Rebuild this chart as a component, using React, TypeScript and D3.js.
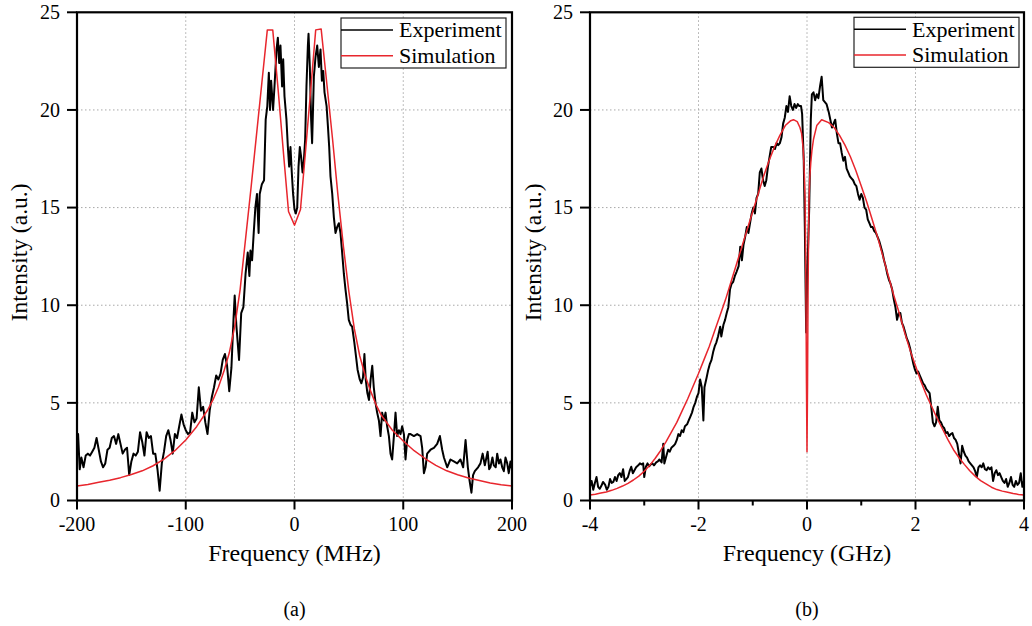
import React from "react";
import * as d3 from "d3";

// ---------- data ----------
const intensityTicks = [0, 5, 10, 15, 20, 25];
const intensityGrid = [5, 10, 15, 20];
const freqTicksA = [-200, -100, 0, 100, 200];
const freqGridA = [-100, 0, 100];
const freqTicksB = [-4, -2, 0, 2, 4];
const freqMinorB = [-3, -1, 1, 3];
const freqGridB = [-2, 0, 2];
const legendLabels = ["Experiment", "Simulation"];

// (a) experiment: [frequency MHz, intensity a.u.]
const expA: [number, number][] = [
  [-200, 2.3], [-199, 3.4], [-197.5, 1.6], [-196, 2.2], [-194, 1.7], [-192, 2.3], [-190, 2.4], [-188, 2.3],
  [-186, 2.5], [-184, 2.7], [-182, 3.2], [-180, 2.6], [-178, 2.0], [-176, 1.7], [-174, 1.9], [-172, 2.6],
  [-170, 2.7], [-168, 3.2], [-166, 3.3], [-164, 2.9], [-162, 3.4], [-160, 2.9], [-158, 2.4], [-156, 2.6],
  [-154, 2.7], [-152, 1.3], [-150, 2.0], [-148, 2.4], [-146, 2.3], [-144, 2.5], [-142, 3.5], [-140, 3.0],
  [-138, 2.3], [-136, 3.5], [-134, 3.2], [-132, 3.3], [-130, 2.4], [-128, 2.4], [-126, 1.6], [-124, 0.5],
  [-122, 1.9], [-120, 2.5], [-118, 3.3], [-116, 3.6], [-114, 3.1], [-112, 2.4], [-110, 3.4], [-108, 3.2],
  [-106, 3.8], [-104, 4.4], [-102, 3.9], [-100, 3.6], [-98, 3.4], [-96, 3.5], [-94, 4.5], [-92, 4.0],
  [-90, 4.2], [-88, 5.8], [-86, 4.6], [-84, 4.8], [-82, 4.0], [-80, 3.4], [-78, 4.6], [-76, 5.3],
  [-74, 5.8], [-72, 6.4], [-70, 6.2], [-68, 6.5], [-66, 7.2], [-64, 7.5], [-62, 6.9], [-60, 5.6],
  [-58, 6.8], [-56, 9.4], [-55, 10.5], [-53.5, 9.0], [-51, 7.2], [-49, 9.6], [-47, 9.9], [-45, 11.6],
  [-43, 12.7], [-41.5, 11.5], [-40.5, 12.8], [-39, 12.3], [-37.5, 13.7], [-36, 15.0], [-34.5, 15.7], [-33, 13.7],
  [-32, 15.7], [-30, 16.2], [-28, 16.4], [-26.5, 19.5], [-25, 20.2], [-23.6, 21.9], [-22.5, 20.0], [-21.5, 21.5],
  [-19.7, 20.0], [-18.4, 21.2], [-16.5, 23.1], [-15.3, 23.7], [-14.1, 22.4], [-12.9, 23.3], [-11.4, 21.2], [-10.4, 22.6],
  [-9.2, 20.7], [-7.4, 19.5], [-6.1, 18.1], [-4.9, 17.1], [-3.7, 18.1], [-2.5, 16.8], [-1.3, 15.7], [0, 14.9],
  [1.2, 14.7], [2.5, 15.0], [3.7, 17.1], [4.9, 18.1], [6.1, 17.6], [7.4, 16.8], [8.6, 17.4], [9.8, 18.5],
  [11.0, 21.2], [12.3, 23.3], [12.9, 23.9], [14.1, 22.2], [15.3, 19.5], [16.2, 18.3], [17.8, 21.7], [19.3, 22.7],
  [20.9, 23.3], [22.4, 22.2], [23.9, 23.1], [25.2, 21.5], [26.4, 22.0], [27.6, 20.9], [29.5, 20.2], [30.7, 19.2],
  [31.9, 18.1], [33.1, 16.6], [34.7, 15.7], [36.2, 14.5], [37.7, 13.7], [39.2, 14.0], [40.8, 14.2], [42.3, 13.7],
  [43.8, 12.7], [45.4, 11.6], [46.9, 10.8], [48.4, 10.1], [49.9, 9.25], [51.5, 9.0], [53, 8.9], [55, 8.1],
  [56.5, 7.4], [58, 6.7], [60, 6.2], [61.5, 6.0], [63, 6.3], [64.3, 7.5], [65.5, 6.2], [67, 5.5],
  [68.5, 5.15], [70, 6.2], [71.5, 6.9], [72.9, 5.8], [74.5, 5.0], [76, 4.5], [77.6, 4.1], [79.1, 3.3],
  [80.6, 4.5], [82.2, 4.1], [83.7, 4.5], [85.2, 3.8], [86.8, 3.3], [88.3, 2.4], [89.8, 2.1], [91.4, 3.3],
  [92.9, 4.5], [94.4, 3.3], [96, 3.6], [97.5, 3.4], [99, 3.8], [100.6, 3.4], [102.1, 2.1], [103.6, 3.1],
  [105.2, 3.4], [106.7, 3.4], [109.8, 3.3], [112.8, 3.4], [115.9, 3.3], [117.4, 2.7], [119, 1.4], [120.5, 1.7],
  [122, 2.4], [125.1, 2.6], [128.2, 2.7], [131.2, 2.9], [133.7, 3.3], [135.8, 2.6], [137.4, 2.2], [140.4, 1.7],
  [143.4, 2.1], [146.5, 2.0], [149.6, 1.9], [152.6, 2.1], [155.1, 1.7], [157.3, 3.1], [159.4, 1.7], [160.9, 1.05],
  [162.7, 0.4], [164.2, 1.3], [165.8, 1.5], [168.8, 1.7], [171, 1.9], [173, 2.4], [175, 1.8], [177.6, 2.5],
  [179, 1.6], [180.2, 1.7], [182, 2.2], [183.3, 1.8], [185, 1.7], [186.4, 2.4], [188, 1.9], [189.4, 2.1],
  [191, 1.7], [192.5, 1.5], [194, 2.2], [195.6, 1.9], [197, 1.4], [198.6, 2.0], [200, 1.6],
];

// (a) simulation
const simA: [number, number][] = [
  [-200, 0.74], [-190, 0.82], [-180, 0.93], [-170, 1.04], [-160, 1.17], [-150, 1.33], [-140, 1.52], [-130, 1.78],
  [-120, 2.12], [-110, 2.55], [-100, 3.1], [-90, 3.78], [-80, 4.62], [-75, 5.15], [-70, 5.8], [-65, 6.6],
  [-60, 7.55], [-55, 8.9], [-50, 10.8], [-45, 13.4], [-40, 16.0], [-35, 18.7], [-30, 21.4], [-25, 24.1],
  [-20, 24.1], [-15, 21.0], [-10, 17.7], [-5.5, 14.8], [0, 14.1], [5.5, 14.9], [10, 17.8], [15, 21.1],
  [19.5, 24.1], [24.5, 24.15], [30, 21.2], [35, 18.5], [40, 15.6], [45, 13.0], [50, 10.7], [55, 8.8],
  [60, 7.4], [65, 6.4], [70, 5.6], [75, 4.9], [80, 4.35], [90, 3.6], [100, 3.05], [110, 2.55],
  [120, 2.15], [130, 1.8], [140, 1.52], [150, 1.32], [160, 1.15], [170, 1.02], [180, 0.9], [190, 0.81], [200, 0.74],
];

// (b) experiment: [frequency GHz, intensity a.u.]
const expB: [number, number][] = [
  [-4.0, 0.7], [-3.97, 1.0], [-3.94, 0.55], [-3.91, 0.9], [-3.88, 1.2], [-3.85, 0.7], [-3.82, 0.6], [-3.79, 0.75],
  [-3.76, 0.95], [-3.72, 0.8], [-3.69, 0.55], [-3.66, 0.7], [-3.63, 1.1], [-3.6, 0.9], [-3.57, 0.95], [-3.54, 1.2],
  [-3.51, 1.0], [-3.48, 1.3], [-3.45, 1.4], [-3.42, 1.2], [-3.39, 1.6], [-3.36, 1.0], [-3.33, 1.1], [-3.3, 1.2],
  [-3.27, 1.5], [-3.24, 1.73], [-3.21, 1.4], [-3.18, 1.55], [-3.15, 1.7], [-3.11, 1.8], [-3.08, 1.9], [-3.05, 1.85],
  [-3.02, 1.9], [-3.0, 1.2], [-2.97, 1.73], [-2.94, 1.9], [-2.91, 1.75], [-2.88, 1.85], [-2.85, 1.9], [-2.82, 1.8],
  [-2.78, 1.95], [-2.75, 2.0], [-2.72, 2.1], [-2.68, 1.95], [-2.65, 2.9], [-2.63, 1.9], [-2.59, 2.3], [-2.56, 2.6],
  [-2.53, 2.5], [-2.5, 2.7], [-2.46, 2.8], [-2.43, 2.9], [-2.4, 3.1], [-2.37, 3.4], [-2.34, 3.3], [-2.31, 3.6],
  [-2.28, 3.5], [-2.25, 3.8], [-2.21, 3.9], [-2.18, 4.1], [-2.15, 4.3], [-2.12, 4.5], [-2.09, 4.8], [-2.06, 5.0],
  [-2.03, 5.3], [-2.0, 5.5], [-1.97, 6.2], [-1.94, 5.8], [-1.91, 4.1], [-1.89, 5.8], [-1.85, 6.3], [-1.82, 6.7],
  [-1.79, 7.0], [-1.76, 7.2], [-1.73, 7.6], [-1.7, 7.9], [-1.67, 8.1], [-1.64, 8.4], [-1.6, 8.9], [-1.58, 8.4],
  [-1.54, 9.0], [-1.51, 9.25], [-1.48, 9.6], [-1.45, 9.9], [-1.42, 10.8], [-1.39, 11.1], [-1.36, 11.2], [-1.33, 11.5],
  [-1.3, 11.7], [-1.26, 12.0], [-1.23, 13.0], [-1.2, 12.3], [-1.17, 13.1], [-1.14, 13.5], [-1.11, 14.0], [-1.08, 13.7],
  [-1.05, 14.2], [-1.02, 14.7], [-0.99, 15.0], [-0.96, 14.7], [-0.93, 15.5], [-0.9, 15.7], [-0.87, 16.8], [-0.84, 17.0],
  [-0.81, 16.4], [-0.78, 16.1], [-0.75, 16.4], [-0.72, 17.1], [-0.69, 17.6], [-0.66, 18.1], [-0.62, 18.1], [-0.59, 18.0],
  [-0.56, 18.3], [-0.53, 18.2], [-0.5, 18.3], [-0.47, 18.6], [-0.44, 19.3], [-0.41, 19.6], [-0.38, 20.2], [-0.35, 19.9],
  [-0.32, 20.7], [-0.29, 20.2], [-0.26, 20.0], [-0.23, 20.3], [-0.2, 20.1], [-0.17, 20.3], [-0.14, 20.2], [-0.11, 20.2],
  [-0.09, 19.8], [-0.06, 17.4], [-0.04, 14.0], [-0.015, 8.6], [0.01, 12.0], [0.04, 14.9], [0.07, 19.5], [0.09, 20.8],
  [0.12, 20.9], [0.15, 20.5], [0.18, 20.8], [0.21, 20.6], [0.24, 21.2], [0.27, 21.7], [0.3, 20.5], [0.33, 20.4],
  [0.36, 20.3], [0.4, 19.9], [0.43, 19.5], [0.46, 19.1], [0.49, 19.3], [0.52, 19.5], [0.55, 18.8], [0.58, 18.3],
  [0.61, 18.3], [0.64, 17.8], [0.67, 17.4], [0.7, 17.6], [0.73, 17.0], [0.76, 16.8], [0.79, 16.6], [0.82, 16.5],
  [0.85, 16.4], [0.88, 16.2], [0.91, 16.1], [0.94, 15.7], [0.97, 15.4], [1.0, 15.7], [1.03, 15.5], [1.06, 15.0],
  [1.09, 14.9], [1.12, 14.4], [1.15, 14.2], [1.18, 14.0], [1.21, 14.0], [1.24, 13.8], [1.27, 13.7], [1.3, 13.5],
  [1.33, 13.3], [1.36, 13.0], [1.39, 12.7], [1.42, 12.3], [1.45, 12.0], [1.48, 11.6], [1.51, 11.3], [1.54, 11.1],
  [1.57, 10.8], [1.6, 10.3], [1.63, 9.9], [1.66, 9.25], [1.69, 9.6], [1.72, 9.6], [1.75, 9.1], [1.78, 8.9],
  [1.81, 8.6], [1.84, 8.3], [1.87, 8.1], [1.9, 7.8], [1.93, 7.4], [1.96, 7.0], [1.99, 6.7], [2.02, 6.5],
  [2.05, 6.6], [2.08, 6.4], [2.11, 6.2], [2.14, 6.0], [2.17, 5.9], [2.2, 5.7], [2.23, 5.6], [2.26, 5.5],
  [2.29, 4.8], [2.32, 4.0], [2.35, 3.8], [2.38, 4.0], [2.41, 4.8], [2.44, 4.1], [2.47, 4.0], [2.5, 3.8],
  [2.53, 3.7], [2.56, 3.45], [2.59, 3.5], [2.62, 3.3], [2.65, 3.4], [2.68, 3.45], [2.71, 3.2], [2.74, 3.1],
  [2.77, 2.9], [2.8, 2.4], [2.83, 1.9], [2.86, 2.8], [2.89, 2.5], [2.92, 2.3], [2.95, 2.2], [2.98, 2.0],
  [3.01, 1.9], [3.04, 1.8], [3.07, 1.7], [3.1, 1.5], [3.13, 1.2], [3.16, 1.7], [3.19, 1.8], [3.22, 1.7],
  [3.25, 1.9], [3.28, 1.6], [3.31, 1.55], [3.34, 1.7], [3.37, 1.6], [3.4, 1.7], [3.43, 1.0], [3.46, 1.4],
  [3.49, 1.55], [3.52, 1.3], [3.55, 1.4], [3.58, 1.2], [3.61, 1.0], [3.64, 0.9], [3.67, 1.1], [3.7, 0.7],
  [3.73, 0.9], [3.76, 1.2], [3.79, 0.8], [3.82, 0.7], [3.85, 1.0], [3.88, 0.8], [3.91, 0.9], [3.94, 1.4],
  [3.97, 0.7], [4.0, 1.0],
];

// (b) simulation
const simB: [number, number][] = [
  [-4.0, 0.28], [-3.9, 0.32], [-3.8, 0.38], [-3.7, 0.44], [-3.6, 0.52], [-3.5, 0.62], [-3.4, 0.74], [-3.3, 0.88],
  [-3.2, 1.05], [-3.1, 1.25], [-3.0, 1.5], [-2.9, 1.8], [-2.8, 2.15], [-2.7, 2.55], [-2.6, 3.0], [-2.5, 3.5],
  [-2.4, 4.0], [-2.3, 4.6], [-2.2, 5.2], [-2.1, 5.85], [-2.0, 6.5], [-1.9, 7.2], [-1.8, 7.9], [-1.7, 8.7],
  [-1.6, 9.5], [-1.5, 10.3], [-1.4, 11.2], [-1.3, 12.1], [-1.2, 13.0], [-1.1, 13.9], [-1.0, 14.8], [-0.9, 15.7],
  [-0.8, 16.6], [-0.7, 17.4], [-0.6, 18.1], [-0.5, 18.7], [-0.4, 19.2], [-0.3, 19.45], [-0.25, 19.5], [-0.18, 19.4],
  [-0.13, 19.1], [-0.1, 18.8], [-0.07, 18.0], [-0.05, 16.8], [-0.035, 15.4], [-0.02, 11.0], [-0.01, 6.0], [0, 2.5],
  [0.01, 6.0], [0.02, 11.0], [0.035, 15.2], [0.05, 16.5], [0.07, 17.3], [0.09, 17.9], [0.12, 18.5], [0.18, 19.2],
  [0.27, 19.5], [0.4, 19.35], [0.5, 19.1], [0.6, 18.7], [0.7, 18.2], [0.8, 17.6], [0.9, 16.9], [1.0, 16.1],
  [1.1, 15.3], [1.2, 14.4], [1.3, 13.5], [1.4, 12.5], [1.5, 11.5], [1.6, 10.5], [1.7, 9.6], [1.8, 8.6],
  [1.9, 7.7], [2.0, 6.9], [2.1, 6.1], [2.2, 5.4], [2.3, 4.8], [2.4, 4.2], [2.5, 3.65], [2.6, 3.1],
  [2.7, 2.6], [2.8, 2.2], [2.9, 1.85], [3.0, 1.52], [3.1, 1.25], [3.2, 1.02], [3.3, 0.85], [3.4, 0.68],
  [3.5, 0.56], [3.6, 0.48], [3.7, 0.42], [3.8, 0.36], [3.9, 0.31], [4.0, 0.28],
];

// ---------- drawing ----------
const W = 1032;
const H = 626;
const FONT = "'Liberation Serif', 'Times New Roman', Times, serif";
const serif = { fontFamily: FONT };

type PanelProps = {
  x0: number;
  x1: number;
  xDomain: [number, number];
  xTicks: number[];
  xMinor: number[];
  xGrid: number[];
  exp: [number, number][];
  sim: [number, number][];
  xTitle: string;
  tag: string;
  legendX: number;
  legendY: number;
  yTitleX: number;
};

function Panel(p: PanelProps) {
  const top = 12.3;
  const bottom = 500.5;
  const x = d3.scaleLinear().domain(p.xDomain).range([p.x0, p.x1]);
  const y = d3.scaleLinear().domain([0, 25]).range([bottom, top]);
  const line = d3
    .line<[number, number]>()
    .x((d) => x(d[0]))
    .y((d) => y(d[1]));
  const cx = (p.x0 + p.x1) / 2;
  const legendColors = ["#000", "#e8262d"];
  return (
    <g>
      {intensityGrid.map((v) => (
        <line key={"gy" + v} x1={p.x0} x2={p.x1} y1={y(v)} y2={y(v)} stroke="#a8a8a8" strokeWidth={1} strokeDasharray="1.5,2.5" />
      ))}
      {p.xGrid.map((v) => (
        <line key={"gx" + v} x1={x(v)} x2={x(v)} y1={top} y2={bottom} stroke="#a8a8a8" strokeWidth={1} strokeDasharray="1.5,2.5" />
      ))}
      <path d={line(p.exp) || ""} fill="none" stroke="#000" strokeWidth={2} strokeLinejoin="round" />
      <path d={line(p.sim) || ""} fill="none" stroke="#e8262d" strokeWidth={1.5} strokeLinejoin="round" />
      <rect x={p.x0} y={top} width={p.x1 - p.x0} height={bottom - top} fill="none" stroke="#000" strokeWidth={2.2} />
      {intensityTicks.map((v) => (
        <g key={"ty" + v}>
          <line x1={p.x0 - 10} x2={p.x0} y1={y(v)} y2={y(v)} stroke="#000" strokeWidth={2} />
          <text x={p.x0 - 17} y={y(v)} dy="0.34em" textAnchor="end" style={serif} fontSize={20} fill="#000">
            {v}
          </text>
        </g>
      ))}
      {p.xTicks.map((v) => (
        <g key={"tx" + v}>
          <line x1={x(v)} x2={x(v)} y1={bottom} y2={bottom + 9} stroke="#000" strokeWidth={2} />
          <text x={x(v)} y={531} textAnchor="middle" style={serif} fontSize={20} fill="#000">
            {v}
          </text>
        </g>
      ))}
      {p.xMinor.map((v) => (
        <line key={"mx" + v} x1={x(v)} x2={x(v)} y1={bottom} y2={bottom + 5} stroke="#000" strokeWidth={2} />
      ))}
      <text x={cx} y={561} textAnchor="middle" style={serif} fontSize={24} fill="#000">
        {p.xTitle}
      </text>
      <text
        transform={`translate(${p.yTitleX},${(top + bottom) / 2 - 4}) rotate(-90)`}
        textAnchor="middle"
        style={serif}
        fontSize={23.5}
        fill="#000"
      >
        Intensity (a.u.)
      </text>
      <text x={cx} y={616} textAnchor="middle" style={serif} fontSize={20} fill="#000">
        {p.tag}
      </text>
      <g transform={`translate(${p.legendX},${p.legendY})`}>
        <rect x={0} y={0} width={165} height={50} fill="#fff" stroke="#222" strokeWidth={1.2} />
        {legendLabels.map((lab, i) => (
          <g key={lab}>
            <line x1={0} x2={52} y1={12 + i * 25.7} y2={12 + i * 25.7} stroke={legendColors[i]} strokeWidth={1.6} />
            <text x={58} y={19.3 + i * 25.4} style={serif} fontSize={22} fill="#000">
              {lab}
            </text>
          </g>
        ))}
      </g>
    </g>
  );
}

export default function App() {
  return (
    <svg
      width={W}
      height={H}
      viewBox={`0 0 ${W} ${H}`}
      style={{ position: "absolute", left: 0, top: 0, background: "#fff" }}
    >
      <rect x={0} y={0} width={W} height={H} fill="#fff" />
      <Panel
        x0={77}
        x1={512}
        xDomain={[-200, 200]}
        xTicks={freqTicksA}
        xMinor={[]}
        xGrid={freqGridA}
        exp={expA}
        sim={simA}
        xTitle="Frequency (MHz)"
        tag="(a)"
        legendX={341}
        legendY={18}
        yTitleX={27}
      />
      <Panel
        x0={590}
        x1={1024}
        xDomain={[-4, 4]}
        xTicks={freqTicksB}
        xMinor={freqMinorB}
        xGrid={freqGridB}
        exp={expB}
        sim={simB}
        xTitle="Frequency (GHz)"
        tag="(b)"
        legendX={854}
        legendY={17.3}
        yTitleX={541}
      />
    </svg>
  );
}
